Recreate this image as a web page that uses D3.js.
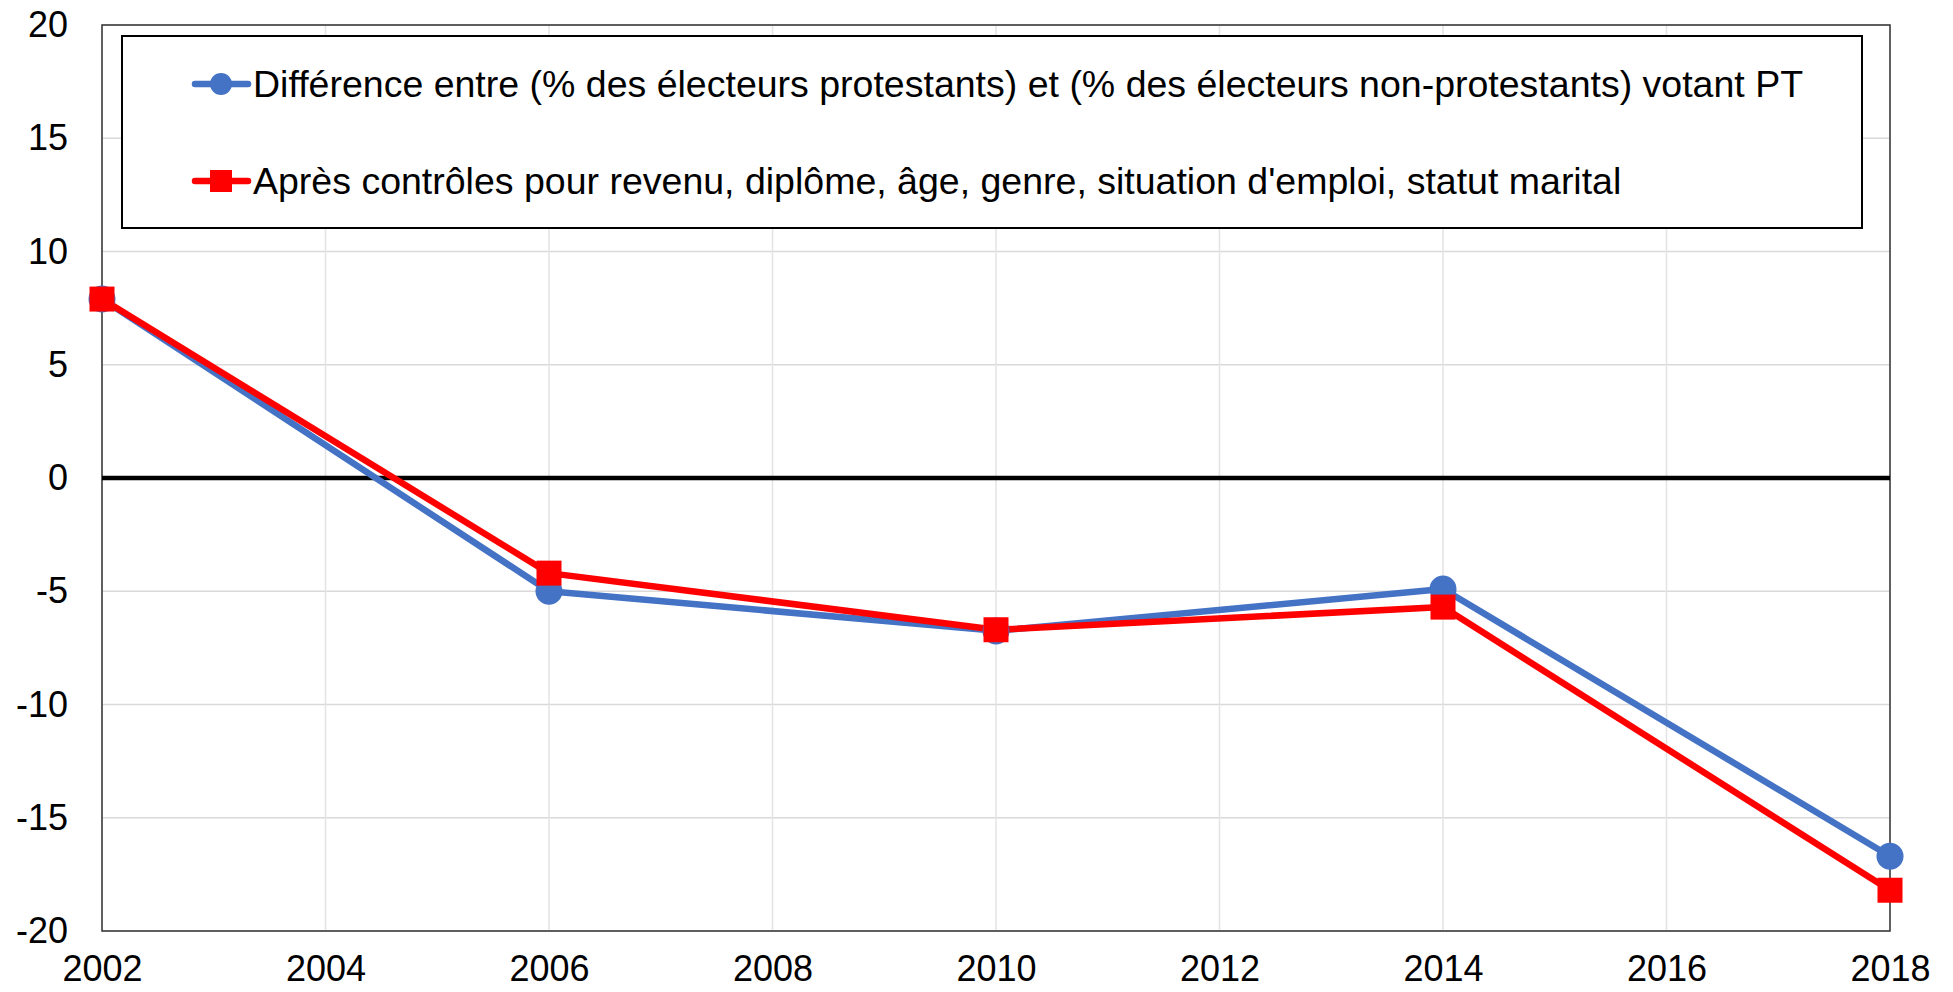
<!DOCTYPE html>
<html><head><meta charset="utf-8">
<script src="https://cdn.jsdelivr.net/npm/d3@7/dist/d3.min.js"></script>
<style>body{margin:0;background:#fff;} svg{display:block;font-family:"Liberation Sans",Arial,sans-serif;}</style>
</head><body>
<svg id="c" width="1953" height="992"></svg>
<script>
const years = [2002, 2006, 2010, 2014, 2018];
const seriesNames = ["Différence entre (% des électeurs protestants) et (% des électeurs non-protestants) votant PT",
  "Après contrôles pour revenu, diplôme, âge, genre, situation d'emploi, statut marital"];
const diffRaw = [7.9, -5.0, -6.75, -4.9, -16.7];
const diffControlled = [7.9, -4.2, -6.7, -5.7, -18.2];
const xTicks = [2002, 2004, 2006, 2008, 2010, 2012, 2014, 2016, 2018];
const yTicks = [-20, -15, -10, -5, 0, 5, 10, 15, 20];
const colors = ["#4472C4", "#FF0000"];

const svg = d3.select("#c");
const L = 102, R = 1890, T = 25, B = 931;
const x = d3.scaleLinear().domain([2002, 2018]).range([L, R]);
const y = d3.scaleLinear().domain([-20, 20]).range([B, T]);
const fmt = d => String(d).replace("\u2212", "-");

// gridlines
svg.append("g").selectAll("line").data(yTicks).join("line")
  .attr("x1", L).attr("x2", R).attr("y1", d => y(d)).attr("y2", d => y(d))
  .attr("stroke", "#d9d9d9").attr("stroke-width", 1.5);
svg.append("g").selectAll("line").data(xTicks).join("line")
  .attr("y1", T).attr("y2", B).attr("x1", d => x(d)).attr("x2", d => x(d))
  .attr("stroke", "#e3e3e3").attr("stroke-width", 1.5);

// plot border
svg.append("rect").attr("x", L).attr("y", T).attr("width", R - L).attr("height", B - T)
  .attr("fill", "none").attr("stroke", "#333").attr("stroke-width", 1.5);

// zero line
svg.append("line").attr("x1", L).attr("x2", R).attr("y1", y(0)).attr("y2", y(0))
  .attr("stroke", "#000").attr("stroke-width", 4.5);

// axes
const yAxis = d3.axisLeft(y).tickValues(yTicks).tickSize(0).tickPadding(34).tickFormat(fmt);
const gy = svg.append("g").attr("transform", `translate(${L},0)`).call(yAxis);
gy.select(".domain").remove();
gy.selectAll("text").attr("font-size", 36).attr("fill", "#000").attr("font-family", "Liberation Sans, Arial, sans-serif");

const xAxis = d3.axisBottom(x).tickValues(xTicks).tickSize(0).tickPadding(24).tickFormat(fmt);
const gx = svg.append("g").attr("transform", `translate(0,${B})`).call(xAxis);
gx.select(".domain").remove();
gx.selectAll("text").attr("font-size", 36).attr("fill", "#000").attr("font-family", "Liberation Sans, Arial, sans-serif");

// lines
const allSeries = [diffRaw, diffControlled];
const line = d3.line().x((d, i) => x(years[i])).y(d => y(d));
allSeries.forEach((s, k) => {
  svg.append("path").datum(s).attr("d", line).attr("fill", "none")
    .attr("stroke", colors[k]).attr("stroke-width", 6.5).attr("stroke-linejoin", "round");
});
// markers
svg.append("g").selectAll("circle").data(diffRaw).join("circle")
  .attr("cx", (d, i) => x(years[i])).attr("cy", d => y(d)).attr("r", 13.5).attr("fill", colors[0]);
svg.append("g").selectAll("rect").data(diffControlled).join("rect")
  .attr("x", (d, i) => x(years[i]) - 12.5).attr("y", d => y(d) - 12.5)
  .attr("width", 25).attr("height", 25).attr("fill", colors[1]);

// legend
const lg = svg.append("g");
lg.append("rect").attr("x", 122).attr("y", 36).attr("width", 1740).attr("height", 192)
  .attr("fill", "#fff").attr("stroke", "#000").attr("stroke-width", 2);
const rowsY = [84, 181];
seriesNames.forEach((name, k) => {
  const g = lg.append("g").attr("transform", `translate(0,${rowsY[k]})`);
  g.append("line").attr("x1", 195).attr("x2", 248).attr("y1", 0).attr("y2", 0)
    .attr("stroke", colors[k]).attr("stroke-width", 6.5).attr("stroke-linecap", "round");
  if (k === 0) g.append("circle").attr("cx", 221).attr("cy", 0).attr("r", 11).attr("fill", colors[0]);
  else g.append("rect").attr("x", 210).attr("y", -11).attr("width", 22).attr("height", 22).attr("fill", colors[1]);
  g.append("text").attr("x", 253).attr("y", 0).attr("dy", "0.35em").attr("font-size", 37.5)
    .attr("fill", "#000").text(name);
});
</script>
</body></html>
